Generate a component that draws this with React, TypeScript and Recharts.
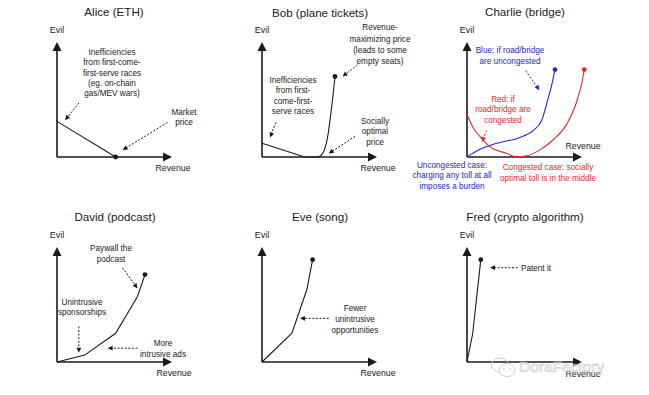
import React from "react";
import { LineChart, Line, XAxis, YAxis, ReferenceLine } from "recharts";

// curves in axis units: each axis arrow is 10 units long
const aliceCurve = [
  { revenue: 0, evil: 3.1 },
  { revenue: 5.1, evil: 0 },
];
const bobCurve = [
  { revenue: 0, evil: 1.2 },
  { revenue: 3.7, evil: 0 },
  { revenue: 4.9, evil: 0 },
  { revenue: 5.15, evil: 0.15 },
  { revenue: 5.4, evil: 0.55 },
  { revenue: 5.6, evil: 1.2 },
  { revenue: 5.75, evil: 2.0 },
  { revenue: 5.9, evil: 3.1 },
  { revenue: 6.1, evil: 4.7 },
  { revenue: 6.35, evil: 7.0 },
];
const charlieBlue = [
  { revenue: 0, evil: 0 },
  { revenue: 1.0, evil: 0.6 },
  { revenue: 2.6, evil: 1.2 },
  { revenue: 4.6, evil: 1.7 },
  { revenue: 5.75, evil: 2.3 },
  { revenue: 6.5, evil: 3.2 },
  { revenue: 7.0, evil: 4.9 },
  { revenue: 7.4, evil: 6.4 },
  { revenue: 7.65, evil: 7.6 },
];
const charlieRed = [
  { revenue: 0, evil: 3.7 },
  { revenue: 0.5, evil: 2.6 },
  { revenue: 1.4, evil: 1.5 },
  { revenue: 2.0, evil: 0.9 },
  { revenue: 3.5, evil: 0.3 },
  { revenue: 4.3, evil: 0 },
  { revenue: 5.2, evil: 0.1 },
  { revenue: 6.3, evil: 0.6 },
  { revenue: 7.5, evil: 1.5 },
  { revenue: 8.7, evil: 2.9 },
  { revenue: 9.6, evil: 5.0 },
  { revenue: 10.0, evil: 6.5 },
  { revenue: 10.2, evil: 7.6 },
];
const davidCurve = [
  { revenue: 0, evil: 0 },
  { revenue: 2.4, evil: 0.6 },
  { revenue: 5.1, evil: 2.5 },
  { revenue: 7.0, evil: 5.7 },
  { revenue: 7.65, evil: 7.6 },
];
const eveCurve = [
  { revenue: 0, evil: 0 },
  { revenue: 2.6, evil: 2.5 },
  { revenue: 3.9, evil: 6.3 },
  { revenue: 4.4, evil: 8.9 },
];
const fredCurve = [
  { revenue: 0, evil: 0 },
  { revenue: 0.5, evil: 2.5 },
  { revenue: 1.2, evil: 8.9 },
];

// dashed pointer arrows, [from, to] in axis units
const aliceArrows = [
  [[1.9, 4.7], [0.7, 3.2]],
  [[9.6, 3.0], [5.7, 0.6]],
];
const bobArrows = [
  [[8.3, 8.0], [7.0, 7.0]],
  [[1.2, 3.0], [0.7, 1.7]],
  [[8.1, 1.8], [5.8, 0.3]],
];
const charlieBlueArrows = [[[5.1, 7.5], [6.3, 5.8]]];
const charlieRedArrows = [[[1.7, 2.3], [1.3, 1.3]]];
const davidArrows = [
  [[5.7, 8.2], [7.0, 6.4]],
  [[1.9, 3.1], [1.9, 0.8]],
  [[7.0, 1.2], [4.4, 1.2]],
];
const eveArrows = [[[5.8, 3.8], [3.3, 3.8]]];
const fredArrows = [[[4.4, 8.2], [2.0, 8.2]]];

const titles = [
  "Alice (ETH)",
  "Bob (plane tickets)",
  "Charlie (bridge)",
  "David (podcast)",
  "Eve (song)",
  "Fred (crypto algorithm)",
];
const axisNames = ["Evil", "Revenue"];
const aliceNotes = [
  "Inefficiencies\nfrom first-come-\nfirst-serve races\n(eg. on-chain\ngas/MEV wars)",
  "Market\nprice",
];
const bobNotes = [
  "Revenue-\nmaximizing price\n(leads to some\nempty seats)",
  "Inefficiencies\nfrom first-\ncome-first-\nserve races",
  "Socially\noptimal\nprice",
];
const charlieNotes = [
  "Blue: if road/bridge\nare uncongested",
  "Red: if\nroad/bridge are\ncongested",
  "Uncongested case:\ncharging any toll at all\nimposes a burden",
  "Congested case: socially\noptimal toll is in the middle",
];
const davidNotes = ["Paywall the\npodcast", "Unintrusive\nsponsorships", "More\nintrusive ads"];
const eveNotes = ["Fewer\nunintrusive\nopportunities"];
const fredNotes = ["Patent it"];

const FONT = '"Liberation Sans", Arial, Helvetica, sans-serif';
const INK = "#1a1a1a";
const BLUE = "#2424d4";
const RED = "#e62828";
const UNIT = 11.5;
const SPAN = 12;
const PAD = 10;
const PLOT = UNIT * SPAN;

const arrowShape = (head: number, wide: number, width: number, color: string, dashed: boolean) => (props: any) => {
  const { x1, y1, x2, y2 } = props;
  const dx = x2 - x1;
  const dy = y2 - y1;
  const len = Math.hypot(dx, dy) || 1;
  const ux = dx / len;
  const uy = dy / len;
  const bx = x2 - ux * head;
  const by = y2 - uy * head;
  const px = -uy * wide;
  const py = ux * wide;
  return (
    <g>
      <line
        x1={x1}
        y1={y1}
        x2={bx + ux}
        y2={by + uy}
        stroke={color}
        strokeWidth={width}
        strokeDasharray={dashed ? "2 1.6" : undefined}
      />
      <polygon points={`${x2},${y2} ${bx + px},${by + py} ${bx - px},${by - py}`} fill={color} />
    </g>
  );
};

const endDot = (n: number, color: string) => (p: any) =>
  p.index === n - 1 ? (
    <circle key={`d${p.index}`} cx={p.cx} cy={p.cy} r={2.4} fill={color} />
  ) : (
    <g key={`d${p.index}`} />
  );

type Series = { data: { revenue: number; evil: number }[]; color: string; type: "linear" | "monotone" };

function Panel({ ox, oy, lines, arrows }: { ox: number; oy: number; lines: Series[]; arrows: { list: number[][][]; color: string }[] }) {
  return (
    <div style={{ position: "absolute", left: ox - PAD, top: oy - PLOT - PAD }}>
      <LineChart
        width={PLOT + 2 * PAD}
        height={PLOT + 2 * PAD}
        margin={{ top: PAD, right: PAD, bottom: PAD, left: PAD }}
      >
        <XAxis type="number" dataKey="revenue" domain={[0, SPAN]} hide />
        <YAxis type="number" domain={[0, SPAN]} hide />
        <ReferenceLine
          segment={[{ x: 0, y: 0 }, { x: 10, y: 0 }]}
          ifOverflow="visible"
          shape={arrowShape(9, 4.5, 1.6, INK, false)}
        />
        <ReferenceLine
          segment={[{ x: 0, y: 0 }, { x: 0, y: 10 }]}
          ifOverflow="visible"
          shape={arrowShape(9, 4.5, 1.6, INK, false)}
        />
        {arrows.flatMap((group, g) =>
          group.list.map((a, i) => (
            <ReferenceLine
              key={`a${g}-${i}`}
              segment={[{ x: a[0][0], y: a[0][1] }, { x: a[1][0], y: a[1][1] }]}
              ifOverflow="visible"
              shape={arrowShape(5, 2.4, 1, group.color, true)}
            />
          ))
        )}
        {lines.map((l, i) => (
          <Line
            key={i}
            data={l.data}
            dataKey="evil"
            type={l.type}
            stroke={l.color}
            strokeWidth={1.1}
            dot={endDot(l.data.length, l.color)}
            activeDot={false}
            isAnimationActive={false}
          />
        ))}
      </LineChart>
    </div>
  );
}

function Note({ text, cx, cy, size = 8.2, lh = 10.5, color = INK }: { text: string; cx: number; cy: number; size?: number; lh?: number; color?: string }) {
  return (
    <div
      style={{
        position: "absolute",
        left: cx - 100,
        width: 200,
        top: cy - lh / 2,
        fontSize: size,
        lineHeight: `${lh}px`,
        textAlign: "center",
        color,
        whiteSpace: "nowrap",
      }}
    >
      {text.split("\n").map((t, i) => (
        <div key={i}>{t}</div>
      ))}
    </div>
  );
}

const black = (list: number[][][]) => [{ list, color: INK }];

export default function App() {
  const origins = [
    [57, 157],
    [262, 157],
    [467, 157],
    [57, 362],
    [262, 362],
    [467, 362],
  ];
  const titlePos = [
    [114, 12],
    [320, 13],
    [525, 12],
    [115, 217],
    [320, 217],
    [525, 217],
  ];
  const revenuePos = [
    [173, 168],
    [378, 168],
    [583, 146],
    [174, 373],
    [378, 373],
    [583, 374],
  ];
  return (
    <div
      style={{
        position: "absolute",
        left: 0,
        top: 0,
        width: 649,
        height: 395,
        background: "#fff",
        overflow: "hidden",
        fontFamily: FONT,
      }}
    >
      <Panel ox={57} oy={157} lines={[{ data: aliceCurve, color: INK, type: "linear" }]} arrows={black(aliceArrows)} />
      <Panel ox={262} oy={157} lines={[{ data: bobCurve, color: INK, type: "linear" }]} arrows={black(bobArrows)} />
      <Panel
        ox={467}
        oy={157}
        lines={[
          { data: charlieBlue, color: BLUE, type: "monotone" },
          { data: charlieRed, color: RED, type: "monotone" },
        ]}
        arrows={[
          { list: charlieBlueArrows, color: BLUE },
          { list: charlieRedArrows, color: RED },
        ]}
      />
      <Panel ox={57} oy={362} lines={[{ data: davidCurve, color: INK, type: "linear" }]} arrows={black(davidArrows)} />
      <Panel ox={262} oy={362} lines={[{ data: eveCurve, color: INK, type: "linear" }]} arrows={black(eveArrows)} />
      <Panel ox={467} oy={362} lines={[{ data: fredCurve, color: INK, type: "linear" }]} arrows={black(fredArrows)} />

      {titles.map((t, i) => (
        <Note key={`t${i}`} text={t} cx={titlePos[i][0]} cy={titlePos[i][1]} size={11.6} lh={14} />
      ))}
      {origins.map((o, i) => (
        <Note key={`e${i}`} text={axisNames[0]} cx={o[0]} cy={o[1] - 127} size={9} lh={11} />
      ))}
      {revenuePos.map((p, i) => (
        <Note key={`r${i}`} text={axisNames[1]} cx={p[0]} cy={p[1]} size={8.8} lh={11} />
      ))}

      <Note text={aliceNotes[0]} cx={112} cy={53} lh={10.4} />
      <Note text={aliceNotes[1]} cx={184} cy={113} lh={10.5} />

      <Note text={bobNotes[0]} cx={380} cy={28} lh={11.2} />
      <Note text={bobNotes[1]} cx={293} cy={81} lh={10.4} />
      <Note text={bobNotes[2]} cx={375} cy={122} lh={10.7} />

      <Note text={charlieNotes[0]} cx={510} cy={50} lh={11} color={BLUE} />
      <Note text={charlieNotes[1]} cx={503} cy={100} lh={10.6} color={RED} />
      <Note text={charlieNotes[2]} cx={452} cy={166} lh={10.6} color={BLUE} />
      <Note text={charlieNotes[3]} cx={548} cy={167} lh={11} color={RED} />

      <Note text={davidNotes[0]} cx={111} cy={248} lh={11} />
      <Note text={davidNotes[1]} cx={82} cy={303} lh={10.5} />
      <Note text={davidNotes[2]} cx={163} cy={343} lh={11} />

      <Note text={eveNotes[0]} cx={355} cy={308} lh={11} />
      <Note text={fredNotes[0]} cx={536} cy={268} lh={11} />

      {/* watermark */}
      <svg style={{ position: "absolute", left: 490, top: 356 }} width={30} height={24}>
        <ellipse cx={10} cy={9} rx={8.5} ry={7} fill="none" stroke="#cfcfcf" strokeWidth={1} />
        <ellipse cx={17} cy={14} rx={8} ry={6.5} fill="#fff" stroke="#cfcfcf" strokeWidth={1} />
        <circle cx={14} cy={13} r={0.9} fill="#cfcfcf" />
        <circle cx={20} cy={13} r={0.9} fill="#cfcfcf" />
      </svg>
      <div
        style={{
          position: "absolute",
          left: 519,
          top: 357,
          fontSize: 15.5,
          lineHeight: "20px",
          color: "rgba(255,255,255,0.3)",
          WebkitTextStroke: "0.6px #c8c8c8",
          whiteSpace: "nowrap",
        }}
      >
        DoraFactory
      </div>
    </div>
  );
}
